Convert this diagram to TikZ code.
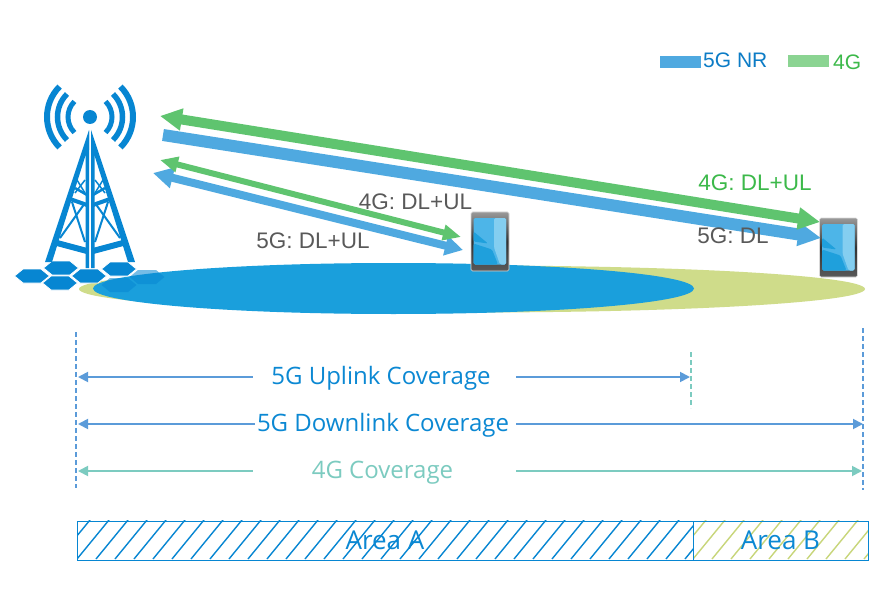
\documentclass[tikz,border=0pt]{standalone}
\usepackage{fontspec}
\setmainfont{Liberation Sans}
\newfontfamily\labelfont{Open Sans}
\usetikzlibrary{arrows.meta}
\definecolor{nrblue}{HTML}{4FA9E0}
\definecolor{ltegreen}{HTML}{5FC46F}
\definecolor{legendgreen}{HTML}{8BD492}
\definecolor{towerblue}{HTML}{0786D2}
\definecolor{textblue}{HTML}{0C7CC6}
\definecolor{covtext}{HTML}{0B88D3}
\definecolor{textgreen}{HTML}{3CB94A}
\definecolor{textgray}{HTML}{595959}
\definecolor{covblue}{HTML}{5B9BD9}
\definecolor{covteal}{HTML}{7CCBC0}
\definecolor{cellblue}{HTML}{1A9FDC}
\definecolor{cellgreen}{HTML}{CFDC8A}
\definecolor{hatchgreen}{HTML}{C8D67A}
\definecolor{screenblue}{HTML}{4DB5E8}
\definecolor{screendeep}{HTML}{1FA0DC}
\definecolor{screenpale}{HTML}{84CEF0}
\begin{document}
\begin{tikzpicture}[x=1pt,y=-1pt,
  hexcell/.style={fill=towerblue,draw=white,line width=0.8pt},
  link/.style={font=\fontsize{22.5}{22.5}\selectfont,inner sep=0pt,text=textgray},
  legendtext/.style={font=\fontsize{21}{21}\selectfont,inner sep=0pt,anchor=west,text=#1},
  covlabel/.style={font=\labelfont\fontsize{24}{24}\selectfont,inner sep=0pt,text=#1},
  covleft/.style={line width=1.8pt,draw=#1,{Triangle[length=10pt,width=10pt]}-},
  covright/.style={line width=1.8pt,draw=#1,-{Triangle[length=10pt,width=10pt]}},
  covlimit/.style={line width=1.5pt,dash pattern=on 5pt off 3pt,draw=#1},
  areabox/.style={draw=towerblue,line width=1pt,minimum height=39pt,inner sep=0pt,font=\labelfont\fontsize{26}{26}\selectfont,text=covtext},
  handset/.style={draw=black!15,line width=0.6pt,top color=black!40,bottom color=black!65,middle color=black!80,rounded corners=1.5pt,minimum width=38pt,minimum height=59pt,inner sep=0pt,
    path picture={
      \begin{scope}[shift={(path picture bounding box.center)}]
      \fill[screenblue] (-16.5,-23.5) rectangle (16,23);
      \fill[screendeep] (-16.5,23) -- (-16.5,2) -- (2,8) -- (8,23) -- cycle;
      \fill[screendeep] (-16.5,-10) -- (-2,2) -- (-16.5,0) -- cycle;
      \fill[screenpale] (4,-23.5) -- (16,-23.5) -- (16,23) -- (10,23) -- (4,6) -- cycle;
      \end{scope}
    }}]
\useasboundingbox (0,0) rectangle (883,604);
\fill[white] (0,0) rectangle (883,604);

\fill[cellgreen] (472,289) ellipse (393 and 23.5);
\fill[cellblue] (393.5,288.5) ellipse (300.5 and 25.5);

\foreach \cx/\cy in {61/268,32/276,60/283,89/276,119/269}{
  \draw[hexcell] (\cx-17.5,\cy) -- (\cx-9,\cy-7) -- (\cx+9,\cy-7) -- (\cx+17.5,\cy) -- (\cx+9,\cy+7) -- (\cx-9,\cy+7) -- cycle;
}
\foreach \cx/\cy in {147/277,119/285}{
  \fill[towerblue,opacity=0.55] (\cx-17.5,\cy) -- (\cx-9,\cy-7) -- (\cx+9,\cy-7) -- (\cx+17.5,\cy) -- (\cx+9,\cy+7) -- (\cx-9,\cy+7) -- cycle;
}

\fill[towerblue] (90,117) circle (7);
\foreach \s in {1,-1}{
  \begin{scope}[shift={(90,0)},xscale=\s,towerblue]
  \draw[line width=5pt] (0,117) ++(-45:22) arc (-45:45:22);
  \draw[line width=5.5pt] (0,117) ++(-45:32.5) arc (-45:45:32.5);
  \draw[line width=6pt] (0,117) ++(-45:43) arc (-45:45:43);
  \fill (-1,130) -- (-45,262) -- (-38,262) -- (-5,157) -- (-1,150) -- cycle;
  \fill (1,131) -- (1,268) -- (4.5,268) -- (4.5,145) -- cycle;
  \draw[line width=6pt] (-33,243) -- (-3,251);
  \draw[line width=4pt] (-20,199) -- (-3,205);
  \draw[line width=2.5pt] (-15,188) -- (-3,195);
  \draw[line width=2pt] (-18,202) -- (-5,242);
  \draw[line width=2pt] (-5,203) -- (-30,238);
  \draw[line width=1.5pt] (-13,180) -- (-5,193);
  \draw[line width=1.5pt] (-5,180) -- (-15,193);
  \end{scope}
}

\coordinate (towerlong) at (160,116);
\coordinate (towerlongb) at (163,135);
\coordinate (towershort) at (160,160);
\coordinate (towershortb) at (153,173);

\node[handset] (phonea) at (490,241.5) {};
\node[handset] (phoneb) at (838.5,247.5) {};

\coordinate (phoneagreen) at (461,237);
\coordinate (phoneablue) at (463,250);
\coordinate (phonebgreen) at (820,222);
\coordinate (phonebblue) at (821,238);

\draw[nrblue,line width=8pt,{Triangle[length=20pt,width=20pt]}-{Triangle[length=18pt,width=19pt]}] (towershortb) -- (phoneablue);
\draw[ltegreen,line width=6pt,{Triangle[length=18pt,width=15pt]}-{Triangle[length=18pt,width=15pt]}] (towershort) -- (phoneagreen);
\draw[nrblue,line width=12pt,-{Triangle[length=23pt,width=22pt]}] (towerlongb) -- (phonebblue);
\draw[ltegreen,line width=10pt,{Triangle[length=22pt,width=21pt]}-{Triangle[length=22pt,width=21pt]}] (towerlong) -- (phonebgreen);

\node[fill=nrblue,minimum width=41pt,minimum height=12pt,inner sep=0pt] (legendnr) at (680,62) {};
\node[fill=legendgreen,minimum width=41pt,minimum height=12pt,inner sep=0pt] (legendlte) at (808.5,61) {};
\node[legendtext=textblue] (legendnrtext) at (703,60) {5G NR};
\node[legendtext=textgreen] (legendltetext) at (833,62) {4G};

\node[link] (labelaa) at (415.5,202) {4G: DL+UL};
\node[link] (labelab) at (313,241) {5G: DL+UL};
\node[link,text=textgreen] (labelba) at (755,183) {4G: DL+UL};
\node[link] (labelbb) at (733,236) {5G: DL};

\coordinate (lefttop) at (76,332);
\coordinate (leftbot) at (76,488);
\coordinate (midtop) at (691,352);
\coordinate (midbot) at (691,408);
\coordinate (righttop) at (863,328);
\coordinate (rightbot) at (863,490);
\draw[covlimit=covblue] (lefttop) -- (leftbot);
\draw[covlimit=covteal] (midtop) -- (midbot);
\draw[covlimit=covblue] (righttop) -- (rightbot);

\node[covlabel=covtext] (covup) at (381,378.5) {5G Uplink Coverage};
\node[covlabel=covtext] (covdown) at (383,425.5) {5G Downlink Coverage};
\node[covlabel=covteal] (covlte) at (382.5,472.5) {4G Coverage};

\coordinate (upa) at (78,377);
\coordinate (upc) at (253,377);
\coordinate (upd) at (516,377);
\coordinate (upb) at (690,377);
\coordinate (downa) at (78,424);
\coordinate (downc) at (255,424);
\coordinate (downd) at (516,424);
\coordinate (downb) at (863,424);
\coordinate (ltea) at (78,471);
\coordinate (ltec) at (253,471);
\coordinate (lted) at (516,471);
\coordinate (lteb) at (862,471);
\draw[covleft=covblue] (upa) -- (upc);
\draw[covright=covblue] (upd) -- (upb);
\draw[covleft=covblue] (downa) -- (downc);
\draw[covright=covblue] (downd) -- (downb);
\draw[covleft=covteal] (ltea) -- (ltec);
\draw[covright=covteal] (lted) -- (lteb);

\begin{scope}
  \clip (77,520) rectangle (693,559);
  \foreach \hx in {39,58,...,693}{
    \draw[towerblue,line width=1.4pt] (\hx,559) -- (\hx+32,520);
  }
\end{scope}
\begin{scope}
  \clip (693,520) rectangle (868,559);
  \foreach \hx in {655,674,...,868}{
    \draw[hatchgreen,line width=1.4pt] (\hx,559) -- (\hx+32,520);
  }
\end{scope}
\node[areabox,minimum width=616pt] (areaa) at (385,540.5) {Area A};
\node[areabox,minimum width=175pt] (areab) at (780.5,540.5) {Area B};
\end{tikzpicture}
\end{document}
